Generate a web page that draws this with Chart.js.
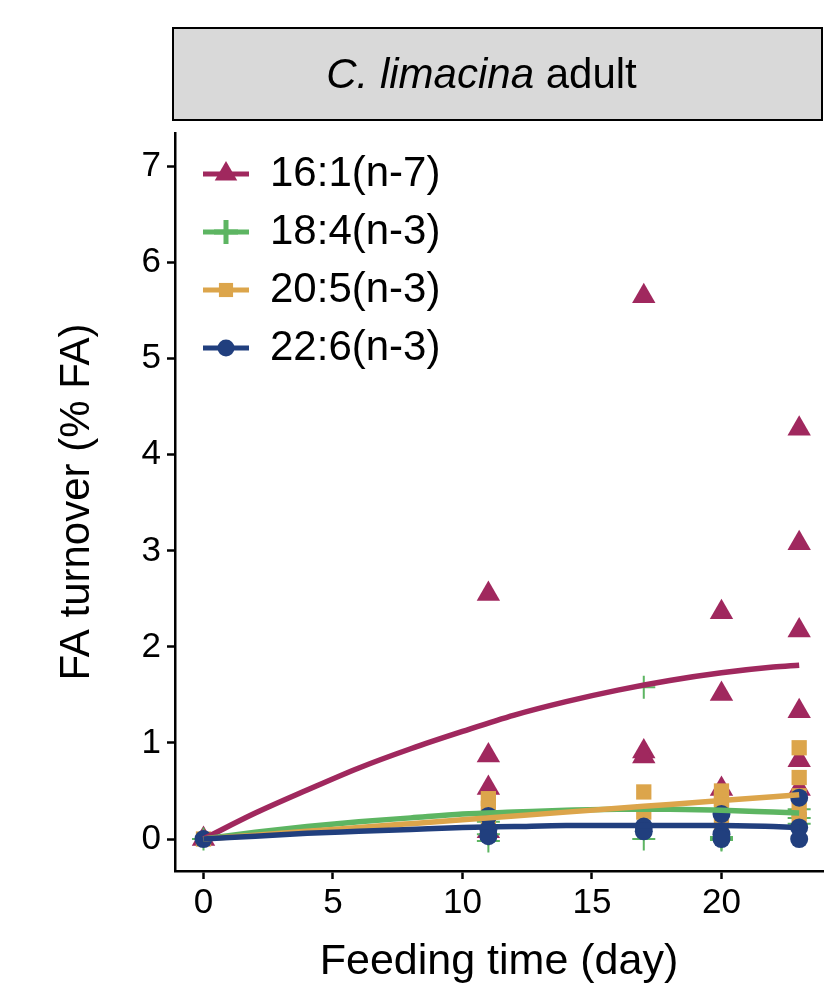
<!DOCTYPE html>
<html><head><meta charset="utf-8">
<script src="https://cdn.jsdelivr.net/npm/chart.js@4.4.1/dist/chart.umd.min.js"></script>
<style>html,body{margin:0;padding:0;background:#fff;}canvas{display:block}</style>
</head><body>
<canvas id="c" width="827" height="985"></canvas>
<script>
// ---- data ----
const seriesNames = ['16:1(n-7)', '18:4(n-3)', '20:5(n-3)', '22:6(n-3)'];
const seriesColors = ['#A0285E', '#5DB562', '#DCA54B', '#213F7E'];
const xTicks = [0, 5, 10, 15, 20];
const yTicks = [0, 1, 2, 3, 4, 5, 6, 7];
const stripItalic = 'C. limacina';
const stripNormal = ' adult';
const xTitle = 'Feeding time (day)';
const yTitle = 'FA turnover (% FA)';

// observed points
const days161 = [0, 11, 11, 11, 11, 17, 17, 17, 20, 20, 20, 23, 23, 23, 23, 23, 23];
const vals161 = [0, 2.55, 0.87, 0.53, 0.08, 5.65, 0.91, 0.86, 2.36, 1.51, 0.52, 4.27, 3.08, 2.17, 1.33, 0.82, 0.52];
const days184 = [0, 11, 11, 11, 17, 17, 20, 20, 20, 23, 23, 23];
const vals184 = [0, 0.18, 0.05, -0.02, 1.58, 0.0, 0.02, 0.0, -0.01, 0.31, 0.22, 0.16];
const days205 = [0, 11, 11, 11, 17, 17, 20, 20, 20, 20, 23, 23, 23, 23, 23];
const vals205 = [0, 0.42, 0.32, 0.15, 0.49, 0.28, 0.50, 0.42, 0.30, 0.15, 0.95, 0.64, 0.45, 0.30, 0.20];
const days226 = [0, 11, 11, 11, 17, 17, 20, 20, 20, 23, 23, 23];
const vals226 = [0, 0.24, 0.10, 0.03, 0.13, 0.08, 0.26, 0.05, 0.0, 0.43, 0.12, 0.0];

// fitted curves
const fitDays = [0, 2, 4, 6, 8, 10, 12, 14, 16, 18, 20, 22, 23];
const fit161 = [0, 0.27, 0.51, 0.74, 0.94, 1.12, 1.29, 1.43, 1.55, 1.65, 1.73, 1.79, 1.81];
const fit184 = [0, 0.07, 0.13, 0.18, 0.22, 0.26, 0.28, 0.30, 0.31, 0.31, 0.30, 0.28, 0.27];
const fit205 = [0, 0.04, 0.08, 0.12, 0.16, 0.20, 0.24, 0.28, 0.32, 0.36, 0.40, 0.44, 0.46];
const fit226 = [0, 0.03, 0.06, 0.08, 0.10, 0.12, 0.13, 0.14, 0.14, 0.14, 0.14, 0.13, 0.12];

// ---- styling ----
const FAMILY = '"Liberation Sans", Arial, Helvetica, sans-serif';
Chart.defaults.font.family = FAMILY;
Chart.defaults.color = '#000';

const pointStyles = ['triangle', 'cross', 'rect', 'circle'];
const pointRadii = [13.5, 11.5, 10.8, 9];
const legendRadii = [13, 12, 10, 8.5];

function pts(xs, ys) { return xs.map((x, i) => ({ x: x, y: ys[i] })); }

function drawMarker(g, style, r, x, y, color) {
  g.save();
  g.fillStyle = color; g.strokeStyle = color;
  if (Chart.helpers && Chart.helpers.drawPoint) {
    Chart.helpers.drawPoint(g, { pointStyle: style, radius: r, rotation: 0, borderWidth: style === 'cross' ? 2 : 0 }, x, y);
  }
  g.restore();
}

function keyImage(i) {
  const c = document.createElement('canvas');
  c.width = 80; c.height = 40;
  const g = c.getContext('2d');
  g.strokeStyle = seriesColors[i];
  g.lineWidth = 5;
  g.beginPath(); g.moveTo(23, 20); g.lineTo(69, 20); g.stroke();
  drawMarker(g, pointStyles[i], legendRadii[i], 46, 20, seriesColors[i]);
  return c;
}
const keyImgs = seriesNames.map((n, i) => keyImage(i));

const pointSets = [pts(days161, vals161), pts(days184, vals184), pts(days205, vals205), pts(days226, vals226)];
const fitSets = [fit161, fit184, fit205, fit226];

const datasets = [];
pointSets.forEach((d, i) => {
  datasets.push({
    label: seriesNames[i], type: 'scatter', data: d, showLine: false,
    pointStyle: pointStyles[i], pointRadius: pointRadii[i], pointHoverRadius: pointRadii[i],
    backgroundColor: seriesColors[i], borderColor: seriesColors[i],
    borderWidth: pointStyles[i] === 'cross' ? 2 : 0, order: 9 - i
  });
});
fitSets.forEach((f, i) => {
  datasets.push({
    label: seriesNames[i] + ' fit', type: 'line', data: pts(fitDays, f),
    borderColor: seriesColors[i], borderWidth: 5.5, pointRadius: 0, pointHoverRadius: 0,
    fill: false, cubicInterpolationMode: 'monotone', order: 4 - i
  });
});

const stripPlugin = {
  id: 'strip',
  afterDraw(chart) {
    const { ctx, chartArea } = chart;
    const x0 = chartArea.left - 2, x1 = chartArea.right - 1, y0 = 28, y1 = 120;
    ctx.save();
    ctx.fillStyle = '#D9D9D9';
    ctx.fillRect(x0, y0, x1 - x0, y1 - y0);
    ctx.strokeStyle = '#000'; ctx.lineWidth = 2;
    ctx.strokeRect(x0, y0, x1 - x0, y1 - y0);
    const fi = 'italic 42px ' + FAMILY, fn = '42px ' + FAMILY;
    ctx.font = fi; const w1 = ctx.measureText(stripItalic).width;
    ctx.font = fn; const w2 = ctx.measureText(stripNormal).width;
    const tx = (x0 + x1) / 2 - (w1 + w2) / 2 - 16, ty = (y0 + y1) / 2 + 2;
    ctx.fillStyle = '#000'; ctx.textBaseline = 'middle'; ctx.textAlign = 'left';
    ctx.font = fi; ctx.fillText(stripItalic, tx, ty);
    ctx.font = fn; ctx.fillText(stripNormal, tx + w1, ty);
    ctx.restore();
  }
};

const axisCommon = {
  type: 'linear',
  border: { display: true, color: '#000', width: 2.5 },
  grid: { display: true, drawOnChartArea: false, drawTicks: true, tickLength: 8, tickWidth: 2.5, tickColor: '#000', color: '#000' },
};

new Chart(document.getElementById('c'), {
  type: 'scatter',
  data: { datasets: datasets },
  options: {
    responsive: false, animation: false,
    layout: { autoPadding: false, padding: { top: 133, right: 4, left: 0, bottom: 0 } },
    plugins: {
      tooltip: { enabled: false },
      legend: {
        position: 'chartArea', align: 'start',
        // blank title pushes the in-panel legend down below the strip
        title: { display: true, text: '', font: { size: 137, lineHeight: 1 }, padding: 0 },
        labels: {
          usePointStyle: true, pointStyleWidth: 58, padding: 16, color: '#000',
          font: { family: FAMILY, size: 42 },
          generateLabels: () => seriesNames.map((n, i) => ({
            text: n, pointStyle: keyImgs[i], fillStyle: seriesColors[i], strokeStyle: seriesColors[i],
            lineWidth: 0, hidden: false, datasetIndex: i, fontColor: '#000'
          }))
        }
      }
    },
    scales: {
      x: Object.assign({}, axisCommon, {
        position: 'bottom', min: -1.1, max: 23.92,
        afterBuildTicks: s => { s.ticks = xTicks.map(v => ({ value: v })); },
        afterFit: s => { s.height = 114; s.paddingLeft = 0; s.paddingRight = 0; },
        ticks: { color: '#000', font: { size: 35 }, padding: 3, maxRotation: 0, autoSkip: false },
        title: { display: true, text: xTitle, color: '#000', font: { size: 43, lineHeight: 1 }, padding: { top: 0, bottom: 1 } }
      }),
      y: Object.assign({}, axisCommon, {
        position: 'left', min: -0.333, max: 7.35,
        afterBuildTicks: s => { s.ticks = yTicks.map(v => ({ value: v })); },
        afterFit: s => { s.width = 175; s.paddingTop = 0; s.paddingBottom = 0; },
        ticks: { color: '#000', font: { size: 35 }, padding: 6, autoSkip: false },
        title: { display: true, text: yTitle, color: '#000', font: { size: 42, lineHeight: 1 }, padding: { top: 56, bottom: 0 } }
      })
    }
  },
  plugins: [stripPlugin]
});
</script>
</body></html>
